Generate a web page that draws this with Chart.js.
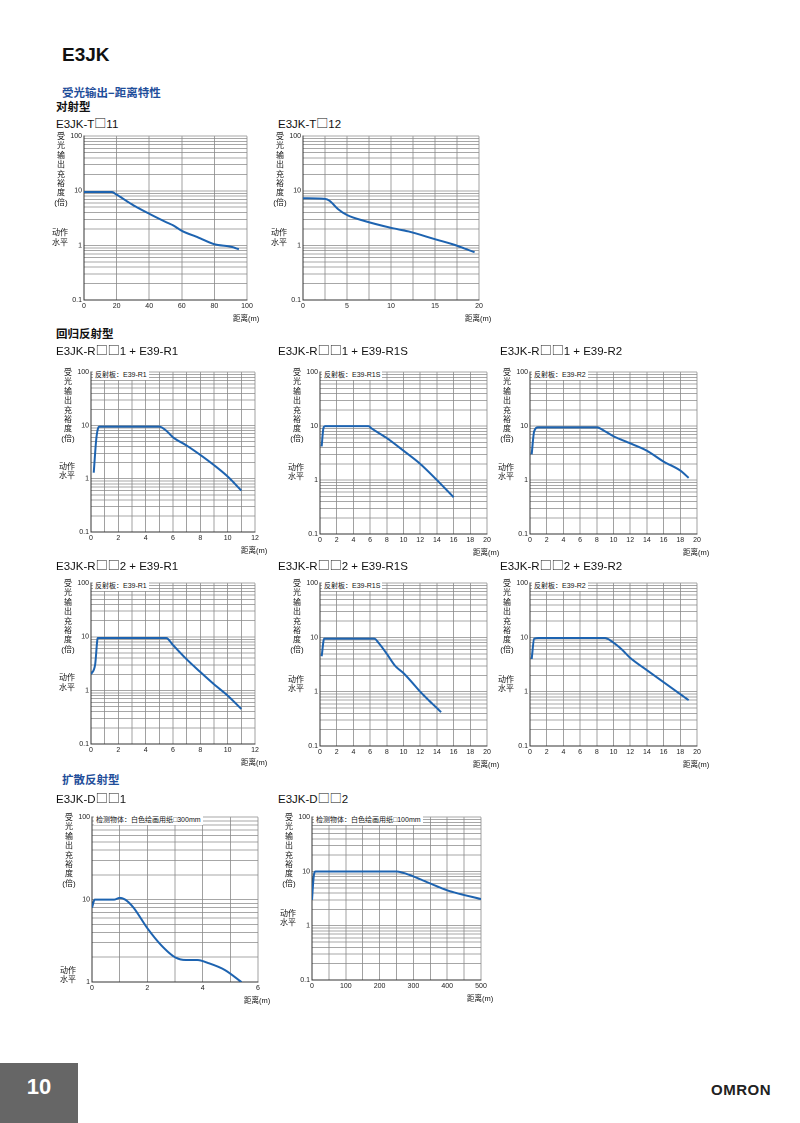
<!DOCTYPE html>
<html><head><meta charset="utf-8">
<script src="https://cdn.jsdelivr.net/npm/chart.js@4"></script>
<style>
body{margin:0;width:800px;height:1123px;position:relative;background:#fff;font-family:"Liberation Sans","Noto Sans CJK SC",sans-serif;color:#111;overflow:hidden}
.a{position:absolute;white-space:nowrap}
.sec{color:#1f4e9a;font-size:11.5px;font-weight:bold}
.h{font-size:11.5px}
.bx{font-family:"Noto Sans CJK SC";font-size:12px}
.vt{position:absolute;font-size:8px;line-height:9.4px;width:12px;text-align:center}
.lg{position:absolute;font-size:7px;background:#fff;padding:0 2px;line-height:10px}
.xu{position:absolute;font-size:7.5px}
canvas{position:absolute}
</style></head><body>
<div class="a" style="left:62px;top:44px;font-size:19px;font-weight:bold">E3JK</div>
<div class="a sec" style="left:62px;top:84px">受光输出−距离特性</div>
<div class="a h" style="left:56px;top:98px;font-weight:bold">对射型</div>
<div class="a sec" style="left:62px;top:771px">扩散反射型</div>
<div class="a h" style="left:56px;top:325px;font-weight:bold">回归反射型</div>
<div class="a" style="left:0;top:1063px;width:78px;height:60px;background:#666;color:#fff;font-size:22px;font-weight:bold;text-align:center;line-height:48px">10</div>
<div class="a" style="left:711px;top:1081px;font-size:15px;font-weight:bold;letter-spacing:0.5px;color:#222">OMRON</div>
<div id="root"></div>
<script>
// series data: [distance, output ratio]
const t11Data = [[0,9.5],[17,9.5],[20,8.5],[30,5.5],[40,3.8],[50,2.7],[55,2.3],[60,1.85],[70,1.4],[80,1.05],[90,0.95],[95,0.85]];
const t12Data = [[0,7.3],[2.5,7.1],[3,6.6],[4,4.6],[5,3.6],[7,2.8],[10,2.1],[12,1.8],[15,1.3],[17,1.05],[19.5,0.75]];
const r1Data = [[0.2,1.3],[0.4,6],[0.6,9.5],[5,9.5],[5.5,8],[6,6],[7,4.2],[8,2.8],[9,1.8],[10,1.1],[11,0.6]];
const r1sData = [[0.2,4.2],[0.4,9],[0.6,10],[5.8,10],[6.2,9],[8,6],[10,3.5],[12,2],[14,1],[16,0.48]];
const r2Data = [[0.2,3],[0.5,8],[1,9.5],[8,9.5],[9,8],[10,6.5],[12,4.8],[14,3.5],[16,2.2],[18,1.5],[19,1.1]];
const r21Data = [[0,2],[0.3,3],[0.5,9.5],[5.5,9.5],[6,7],[7,3.8],[8,2.2],[9,1.3],[10,0.8],[11,0.45]];
const r21sData = [[0.2,4.5],[0.5,9.5],[6.5,9.5],[7,8],[8,5],[9,3],[10,2.2],[11,1.5],[12,1],[13,0.7],[14,0.5],[14.5,0.42]];
const r22Data = [[0.2,4],[0.5,9.5],[1,9.8],[9,9.8],[10,8],[11,6],[12,4.2],[14,2.5],[16,1.5],[18,0.9],[19,0.7]];
const d1Data = [[0,8],[0.1,10],[0.2,10],[0.8,10],[1.0,10.5],[1.2,10],[1.5,8],[2,4.5],[2.5,2.8],[3,2.0],[3.4,1.85],[3.8,1.85],[4.2,1.7],[4.8,1.4],[5.4,1.0]];
const d2Data = [[0,3],[5,8],[10,10],[250,10],[280,9],[350,6],[400,4.5],[510,3]];

const titles = ["E3JK-T□11","E3JK-T□12","E3JK-R□□1 + E39-R1","E3JK-R□□1 + E39-R1S","E3JK-R□□1 + E39-R2",
  "E3JK-R□□2 + E39-R1","E3JK-R□□2 + E39-R1S","E3JK-R□□2 + E39-R2","E3JK-D□□1","E3JK-D□□2"];
const legends = [null,null,"反射板：E39-R1","反射板：E39-R1S","反射板：E39-R2","反射板：E39-R1","反射板：E39-R1S","反射板：E39-R2",
  "检测物体：白色绘画用纸□300mm","检测物体：白色绘画用纸□100mm"];
const series = [t11Data,t12Data,r1Data,r1sData,r2Data,r21Data,r21sData,r22Data,d1Data,d2Data];
const xMax = [100,20,12,20,20,12,20,20,6,500];
const xStep = [20,5,2,2,2,2,2,2,2,100];
const xGrid = [20,2.5,1,2,2,1,2,2,1,50];
const yMin = [0.1,0.1,0.1,0.1,0.1,0.1,0.1,0.1,1,0.1];
// plot boxes [left, top, width, height] and title position
const boxes = [[84,133,163,167],[303,133,176,167],[91,369,164,163],[320,369,167,165],[530,369,167,165],
  [91,580,164,164],[320,580,167,166],[530,580,167,166],[92,814,166,168],[312,814,169,166]];
const titlePos = [[56,114],[278,114],[56,341],[278,341],[500,341],[56,556],[278,556],[500,556],[56,789],[278,789]];

const root = document.getElementById("root");
const YW = 24, XH = 14, PR = 8, PT = 3;

series.forEach((data, i) => {
  const [L, T, W, H] = boxes[i];
  const t = document.createElement("div");
  t.className = "a h"; t.style.left = titlePos[i][0] + "px"; t.style.top = titlePos[i][1] + "px";
  t.innerHTML = titles[i].replace(/□/g, '<span class="bx">□</span>'); root.appendChild(t);

  const cv = document.createElement("canvas");
  cv.style.left = (L - YW) + "px"; cv.style.top = (T - PT) + "px";
  cv.style.width = (W + YW + PR) + "px"; cv.style.height = (H + PT + XH) + "px";
  cv.width = W + YW + PR; cv.height = H + PT + XH;
  root.appendChild(cv);

  const vt = document.createElement("div");
  vt.className = "vt"; vt.style.left = (L - 31) + "px"; vt.style.top = (T - 1) + "px";
  vt.innerHTML = "受<br>光<br>输<br>出<br>充<br>裕<br>度<br>(倍)"; vt.style.width = "16px";
  root.appendChild(vt);
  const decades = Math.log10(100 / yMin[i]);
  const y1 = T + H * (2 / decades);
  const op = document.createElement("div");
  op.className = "vt"; op.style.left = (L - 34) + "px"; op.style.top = (y1 - 16) + "px";
  op.style.width = "20px"; op.innerHTML = "动作<br>水平"; root.appendChild(op);

  const xu = document.createElement("div");
  xu.className = "xu"; xu.style.left = (L + W - 14) + "px"; xu.style.top = (T + H + 12) + "px";
  xu.textContent = "距离(m)"; root.appendChild(xu);

  if (legends[i]) {
    const lg = document.createElement("div");
    lg.className = "lg"; lg.style.left = (L + 2) + "px"; lg.style.top = (T + 1) + "px";
    lg.textContent = legends[i]; root.appendChild(lg);
  }

  new Chart(cv, {
    type: "line",
    data: { datasets: [{ data: data.map(p => ({ x: p[0], y: p[1] })), borderColor: "#1d63b0", borderWidth: 2,
      pointRadius: 0, cubicInterpolationMode: "monotone" }] },
    options: {
      responsive: false, animation: false, devicePixelRatio: 2,
      layout: { padding: { top: PT, right: PR, left: 0, bottom: 0 } },
      plugins: { legend: { display: false }, tooltip: { enabled: false } },
      scales: {
        x: { type: "linear", min: 0, max: xMax[i],
          afterBuildTicks: ax => { const tk = []; for (let v = 0; v <= xMax[i] + 1e-9; v += xGrid[i]) tk.push({ value: v }); ax.ticks = tk; },
          afterFit: ax => { ax.height = XH; },
          grid: { color: "#8a8a8a", lineWidth: 0.8, drawTicks: false },
          border: { color: "#333", width: 1 },
          ticks: { padding: 2, maxRotation: 0, autoSkip: false, font: { size: 7 }, color: "#222",
            callback: v => (Math.abs(v / xStep[i] - Math.round(v / xStep[i])) < 1e-6 ? v : "") } },
        y: { type: "logarithmic", min: yMin[i], max: 100,
          afterBuildTicks: ax => { const tk = []; for (let e = Math.log10(yMin[i]); e < 2; e++) for (let m = 1; m < 10; m++) tk.push({ value: m * Math.pow(10, e) }); tk.push({ value: 100 }); ax.ticks = tk; },
          afterFit: ax => { ax.width = YW; },
          grid: { color: "#8a8a8a", lineWidth: 0.8, drawTicks: false },
          border: { color: "#333", width: 1 },
          ticks: { padding: 2, autoSkip: false, font: { size: 7 }, color: "#222",
            callback: v => { const l = Math.log10(v); return Math.abs(l - Math.round(l)) < 1e-6 ? String(v) : ""; } } }
      }
    }
  });
});
</script>
</body></html>
